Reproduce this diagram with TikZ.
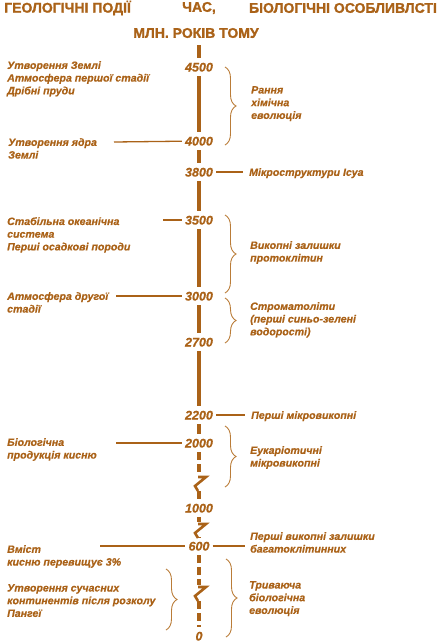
\documentclass[tikz,border=0pt]{standalone}
\usepackage{fontspec}
\setmainfont{Liberation Sans}[BoldItalicFeatures={FakeBold=0.6}]
\newfontfamily\headfont{Liberation Sans}[BoldFeatures={FakeBold=1.4}]
\usetikzlibrary{decorations.pathreplacing}
\definecolor{geobrown}{RGB}{170,98,24}
\definecolor{bracebrown}{RGB}{186,124,56}

\begin{document}
\begin{tikzpicture}[x=1pt,y=-1pt,
    every node/.style={text=geobrown},
    heading/.style={font=\fontsize{14}{16}\headfont\bfseries, inner sep=0pt},
    year/.style={font=\fontsize{12.5}{14}\selectfont\bfseries\itshape, text height=9pt, text depth=0pt, inner xsep=3pt, inner ysep=4.5pt},
    event/.style={font=\fontsize{10.6}{12.7}\selectfont\bfseries\itshape, anchor=north west, align=left, inner sep=0pt},
    axis/.style={geobrown, line width=3.2pt},
    dashaxis/.style={axis, dash pattern=on 8pt off 4pt},
    tick/.style={geobrown, line width=1.3pt},
    span/.style={bracebrown, line width=0.9pt, decorate, decoration={brace, amplitude=11pt}},
    gap/.style={inner sep=0pt, minimum width=2pt, minimum height=16pt}]
    \useasboundingbox (0,0) rectangle (438,643);

    % Headings
    \node[heading, anchor=east] (hgeo) at (131,8) {ГЕОЛОГІЧНІ ПОДІЇ};
    \node[heading] (htime) at (199,8) {ЧАС,};
    \node[heading, anchor=east] (hbio) at (437,8) {БІОЛОГІЧНІ ОСОБЛИВЛСТІ};
    \node[heading] (hunit) at (196,33) {МЛН. РОКІВ ТОМУ};

    % Years on the time axis
    \coordinate (top) at (199,45);
    \foreach \yr/\y in {4500/67, 4000/141, 3800/172, 3500/220, 3000/296, 2700/342,
                        2200/415, 2000/443, 1000/508, 600/546, 0/636}
        \node[year] (n\yr) at (199,\y) {\yr};
    \foreach \b/\y in {b1/483, b2/530, b3/593}
        \node[gap] (\b) at (199,\y) {};

    % Draw Axis
    \draw[axis] (top) -- (n4500) -- (n4000) -- (n3800) -- (n3500) -- (n3000)
        -- (n2700) -- (n2200) -- (n2000);
    \draw[dashaxis] (n2000) -- (b1);
    \draw[dashaxis] (b1) -- (n1000);
    \draw[dashaxis] (n1000) -- (b2);
    \draw[dashaxis] (b2) -- (n600);
    \draw[dashaxis] (n600) -- (b3);
    \draw[dashaxis] (b3) -- (n0);
    \foreach \b in {b1,b2,b3}
        \draw[axis, line width=2.6pt, miter limit=3, shift={(\b)}] (-1,-6) -- (7,-6) -- (-4,3) -- (-1,8);

    % Geological events (left)
    \node[event] (e4500) at (7,61) {Утворення Землі\\Атмосфера першої стадії\\Дрібні пруди};
    \node[event] (e4000) at (8,138) {Утворення ядра\\Землі};
    \node[event] (e3500) at (7,217) {Стабільна океанічна\\система\\Перші осадкові породи};
    \node[event] (e3000) at (7,292) {Атмосфера другої\\стадії};
    \node[event] (e2000) at (7,438) {Біологічна\\продукція кисню};
    \node[event] (e600) at (7,545) {Вміст\\кисню перевищує 3\%};
    \node[event] (epangea) at (7,584) {Утворення сучасних\\континентів після розколу\\Пангеї};

    % Biological features (right)
    \node[event] (f4500) at (251,86) {Рання\\хімічна\\еволюція};
    \node[event] (f3800) at (249,168) {Мікроструктури Ісуа};
    \node[event] (f3500) at (250,241) {Викопні залишки\\протоклітин};
    \node[event] (f3000) at (250,302) {Строматоліти\\(перші синьо-зелені\\водорості)};
    \node[event] (f2200) at (251,411) {Перші мікровикопні};
    \node[event] (f2000) at (250,446) {Еукаріотичні\\мікровикопні};
    \node[event] (f600) at (250,532) {Перші викопні залишки\\багатоклітинних};
    \node[event] (fnow) at (249,581) {Триваюча\\біологічна\\еволюція};

    % Ticks
    \coordinate (t4000) at (114,142);
    \coordinate (t3800) at (243,172);
    \coordinate (t3500) at (163,220);
    \coordinate (t3000) at (116,296);
    \coordinate (t2200) at (245,415);
    \coordinate (t2000) at (116,443);
    \coordinate (t600l) at (100,546);
    \coordinate (t600r) at (245,546);
    \draw[tick] (t4000) -- (n4000);
    \draw[tick] (n3800) -- (t3800);
    \draw[tick] (t3500) -- (n3500);
    \draw[tick] (t3000) -- (n3000);
    \draw[tick] (n2200) -- (t2200);
    \draw[tick] (t2000) -- (n2000);
    \draw[tick] (t600l) -- (n600);
    \draw[tick] (n600) -- (t600r);

    % Braces
    \draw[span] (225,67) -- (225,145);
    \draw[span] (225,215) -- (225,293);
    \draw[span] (225,298) -- (225,343);
    \draw[span] (225,426) -- (225,487);
    \draw[span] (226,559) -- (226,637);
    \draw[span] (166,569) -- (166,630);
\end{tikzpicture}
\end{document}
